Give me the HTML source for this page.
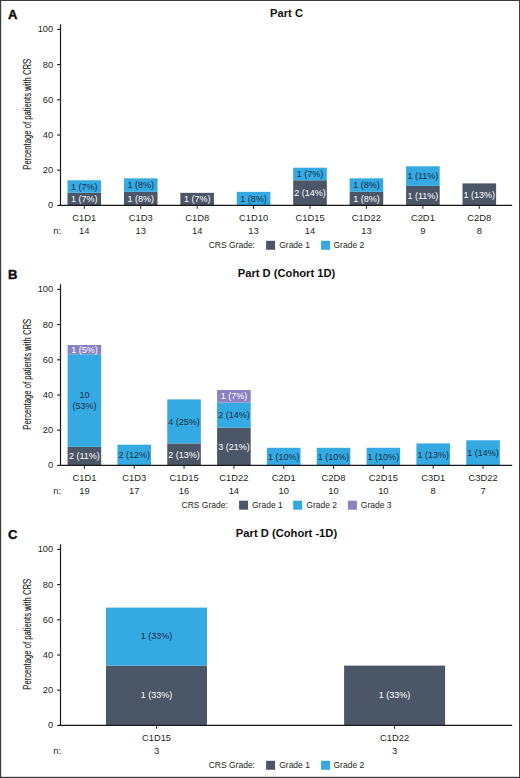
<!DOCTYPE html>
<html><head><meta charset="utf-8"><title>CRS by cycle</title>
<style>
html,body{margin:0;padding:0;background:#fff;}
body{width:520px;height:778px;overflow:hidden;}
svg{display:block;font-family:"Liberation Sans", sans-serif;}
text.k{stroke:#231f20;stroke-width:0px;}
</style></head>
<body>
<svg width="520" height="778" viewBox="0 0 520 778">
<rect x="0" y="0" width="520" height="778" fill="#fff"/>
<text x="8" y="19" font-size="13" font-weight="bold" fill="#111" stroke="#111" stroke-width="0.45">A</text>
<text x="286.5" y="17.4" font-size="11.2" font-weight="bold" fill="#111" text-anchor="middle">Part C</text>
<text transform="translate(30.9 114.3) rotate(-90)" font-size="10.5" fill="#231f20" text-anchor="middle" textLength="110.8" lengthAdjust="spacingAndGlyphs" stroke="#231f20" stroke-width="0.12">Percentage of patients with CRS</text>
<line x1="57.1" x2="60.5" y1="205.4" y2="205.4" stroke="#1a1a1a" stroke-width="1.1"/>
<text x="53.2" y="208.3" font-size="9.3" class="k" fill="#231f20" text-anchor="end">0</text>
<line x1="57.1" x2="60.5" y1="170.2" y2="170.2" stroke="#1a1a1a" stroke-width="1.1"/>
<text x="53.2" y="173.1" font-size="9.3" class="k" fill="#231f20" text-anchor="end">20</text>
<line x1="57.1" x2="60.5" y1="135" y2="135" stroke="#1a1a1a" stroke-width="1.1"/>
<text x="53.2" y="137.9" font-size="9.3" class="k" fill="#231f20" text-anchor="end">40</text>
<line x1="57.1" x2="60.5" y1="99.8" y2="99.8" stroke="#1a1a1a" stroke-width="1.1"/>
<text x="53.2" y="102.7" font-size="9.3" class="k" fill="#231f20" text-anchor="end">60</text>
<line x1="57.1" x2="60.5" y1="64.6" y2="64.6" stroke="#1a1a1a" stroke-width="1.1"/>
<text x="53.2" y="67.5" font-size="9.3" class="k" fill="#231f20" text-anchor="end">80</text>
<line x1="57.1" x2="60.5" y1="29.4" y2="29.4" stroke="#1a1a1a" stroke-width="1.1"/>
<text x="53.2" y="32.3" font-size="9.3" class="k" fill="#231f20" text-anchor="end">100</text>
<rect x="67.5" y="192.83" width="33.6" height="12.57" fill="#4b5667"/>
<text x="84.3" y="202.31" font-size="9" fill="#fff" stroke="#fff" stroke-width="0" text-anchor="middle">1 (7%)</text>
<rect x="67.5" y="180.26" width="33.6" height="12.57" fill="#35a9e1"/>
<text x="84.3" y="189.74" font-size="9" fill="#15304a" stroke="#15304a" stroke-width="0" text-anchor="middle">1 (7%)</text>
<line x1="84.3" x2="84.3" y1="205.4" y2="208.8" stroke="#1a1a1a" stroke-width="1"/>
<text x="84.3" y="220.7" font-size="9.4" class="k" fill="#231f20" text-anchor="middle">C1D1</text>
<text x="84.3" y="234" font-size="9.4" class="k" fill="#231f20" text-anchor="middle">14</text>
<rect x="123.93" y="191.86" width="33.6" height="13.54" fill="#4b5667"/>
<text x="140.73" y="201.83" font-size="9" fill="#fff" stroke="#fff" stroke-width="0" text-anchor="middle">1 (8%)</text>
<rect x="123.93" y="178.32" width="33.6" height="13.54" fill="#35a9e1"/>
<text x="140.73" y="188.29" font-size="9" fill="#15304a" stroke="#15304a" stroke-width="0" text-anchor="middle">1 (8%)</text>
<line x1="140.73" x2="140.73" y1="205.4" y2="208.8" stroke="#1a1a1a" stroke-width="1"/>
<text x="140.73" y="220.7" font-size="9.4" class="k" fill="#231f20" text-anchor="middle">C1D3</text>
<text x="140.73" y="234" font-size="9.4" class="k" fill="#231f20" text-anchor="middle">13</text>
<rect x="180.36" y="192.83" width="33.6" height="12.57" fill="#4b5667"/>
<text x="197.16" y="202.31" font-size="9" fill="#fff" stroke="#fff" stroke-width="0" text-anchor="middle">1 (7%)</text>
<line x1="197.16" x2="197.16" y1="205.4" y2="208.8" stroke="#1a1a1a" stroke-width="1"/>
<text x="197.16" y="220.7" font-size="9.4" class="k" fill="#231f20" text-anchor="middle">C1D8</text>
<text x="197.16" y="234" font-size="9.4" class="k" fill="#231f20" text-anchor="middle">14</text>
<rect x="236.79" y="191.86" width="33.6" height="13.54" fill="#35a9e1"/>
<text x="253.59" y="201.83" font-size="9" fill="#15304a" stroke="#15304a" stroke-width="0" text-anchor="middle">1 (8%)</text>
<line x1="253.59" x2="253.59" y1="205.4" y2="208.8" stroke="#1a1a1a" stroke-width="1"/>
<text x="253.59" y="220.7" font-size="9.4" class="k" fill="#231f20" text-anchor="middle">C1D10</text>
<text x="253.59" y="234" font-size="9.4" class="k" fill="#231f20" text-anchor="middle">13</text>
<rect x="293.22" y="180.26" width="33.6" height="25.14" fill="#4b5667"/>
<text x="310.02" y="196.03" font-size="9" fill="#fff" stroke="#fff" stroke-width="0" text-anchor="middle">2 (14%)</text>
<rect x="293.22" y="167.69" width="33.6" height="12.57" fill="#35a9e1"/>
<text x="310.02" y="177.17" font-size="9" fill="#15304a" stroke="#15304a" stroke-width="0" text-anchor="middle">1 (7%)</text>
<line x1="310.02" x2="310.02" y1="205.4" y2="208.8" stroke="#1a1a1a" stroke-width="1"/>
<text x="310.02" y="220.7" font-size="9.4" class="k" fill="#231f20" text-anchor="middle">C1D15</text>
<text x="310.02" y="234" font-size="9.4" class="k" fill="#231f20" text-anchor="middle">14</text>
<rect x="349.65" y="191.86" width="33.6" height="13.54" fill="#4b5667"/>
<text x="366.45" y="201.83" font-size="9" fill="#fff" stroke="#fff" stroke-width="0" text-anchor="middle">1 (8%)</text>
<rect x="349.65" y="178.32" width="33.6" height="13.54" fill="#35a9e1"/>
<text x="366.45" y="188.29" font-size="9" fill="#15304a" stroke="#15304a" stroke-width="0" text-anchor="middle">1 (8%)</text>
<line x1="366.45" x2="366.45" y1="205.4" y2="208.8" stroke="#1a1a1a" stroke-width="1"/>
<text x="366.45" y="220.7" font-size="9.4" class="k" fill="#231f20" text-anchor="middle">C1D22</text>
<text x="366.45" y="234" font-size="9.4" class="k" fill="#231f20" text-anchor="middle">13</text>
<rect x="406.08" y="185.84" width="33.6" height="19.56" fill="#4b5667"/>
<text x="422.88" y="198.82" font-size="9" fill="#fff" stroke="#fff" stroke-width="0" text-anchor="middle">1 (11%)</text>
<rect x="406.08" y="166.29" width="33.6" height="19.56" fill="#35a9e1"/>
<text x="422.88" y="179.27" font-size="9" fill="#15304a" stroke="#15304a" stroke-width="0" text-anchor="middle">1 (11%)</text>
<line x1="422.88" x2="422.88" y1="205.4" y2="208.8" stroke="#1a1a1a" stroke-width="1"/>
<text x="422.88" y="220.7" font-size="9.4" class="k" fill="#231f20" text-anchor="middle">C2D1</text>
<text x="422.88" y="234" font-size="9.4" class="k" fill="#231f20" text-anchor="middle">9</text>
<rect x="462.51" y="183.4" width="33.6" height="22" fill="#4b5667"/>
<text x="479.31" y="197.6" font-size="9" fill="#fff" stroke="#fff" stroke-width="0" text-anchor="middle">1 (13%)</text>
<line x1="479.31" x2="479.31" y1="205.4" y2="208.8" stroke="#1a1a1a" stroke-width="1"/>
<text x="479.31" y="220.7" font-size="9.4" class="k" fill="#231f20" text-anchor="middle">C2D8</text>
<text x="479.31" y="234" font-size="9.4" class="k" fill="#231f20" text-anchor="middle">8</text>
<text x="53.2" y="234" font-size="9.4" class="k" fill="#231f20">n:</text>
<line x1="60.5" x2="60.5" y1="24.2" y2="206" stroke="#1a1a1a" stroke-width="1.2"/>
<line x1="59.9" x2="512.2" y1="205.4" y2="205.4" stroke="#1a1a1a" stroke-width="1.3"/>
<text x="208.7" y="247.6" font-size="8.5" class="k" fill="#231f20">CRS Grade:</text>
<rect x="266.1" y="240.8" width="9" height="9" fill="#4b5667"/>
<text x="279.2" y="247.6" font-size="8.5" class="k" fill="#231f20">Grade 1</text>
<rect x="321.1" y="240.8" width="9" height="9" fill="#35a9e1"/>
<text x="333.5" y="247.6" font-size="8.5" class="k" fill="#231f20">Grade 2</text>
<text x="8" y="279" font-size="13" font-weight="bold" fill="#111" stroke="#111" stroke-width="0.45">B</text>
<text x="286.5" y="277.4" font-size="11.2" font-weight="bold" fill="#111" text-anchor="middle">Part D (Cohort 1D)</text>
<text transform="translate(30.9 374.3) rotate(-90)" font-size="10.5" fill="#231f20" text-anchor="middle" textLength="110.8" lengthAdjust="spacingAndGlyphs" stroke="#231f20" stroke-width="0.12">Percentage of patients with CRS</text>
<line x1="57.1" x2="60.5" y1="465.4" y2="465.4" stroke="#1a1a1a" stroke-width="1.1"/>
<text x="53.2" y="468.3" font-size="9.3" class="k" fill="#231f20" text-anchor="end">0</text>
<line x1="57.1" x2="60.5" y1="430.2" y2="430.2" stroke="#1a1a1a" stroke-width="1.1"/>
<text x="53.2" y="433.1" font-size="9.3" class="k" fill="#231f20" text-anchor="end">20</text>
<line x1="57.1" x2="60.5" y1="395" y2="395" stroke="#1a1a1a" stroke-width="1.1"/>
<text x="53.2" y="397.9" font-size="9.3" class="k" fill="#231f20" text-anchor="end">40</text>
<line x1="57.1" x2="60.5" y1="359.8" y2="359.8" stroke="#1a1a1a" stroke-width="1.1"/>
<text x="53.2" y="362.7" font-size="9.3" class="k" fill="#231f20" text-anchor="end">60</text>
<line x1="57.1" x2="60.5" y1="324.6" y2="324.6" stroke="#1a1a1a" stroke-width="1.1"/>
<text x="53.2" y="327.5" font-size="9.3" class="k" fill="#231f20" text-anchor="end">80</text>
<line x1="57.1" x2="60.5" y1="289.4" y2="289.4" stroke="#1a1a1a" stroke-width="1.1"/>
<text x="53.2" y="292.3" font-size="9.3" class="k" fill="#231f20" text-anchor="end">100</text>
<rect x="67.6" y="446.87" width="33.6" height="18.53" fill="#4b5667"/>
<text x="84.4" y="459.34" font-size="9" fill="#fff" stroke="#fff" stroke-width="0" text-anchor="middle">2 (11%)</text>
<rect x="67.6" y="354.24" width="33.6" height="92.63" fill="#35a9e1"/>
<text x="84.4" y="398.26" font-size="9" fill="#15304a" stroke="#15304a" stroke-width="0" text-anchor="middle">10</text>
<text x="84.4" y="409.26" font-size="9" fill="#15304a" stroke="#15304a" stroke-width="0" text-anchor="middle">(53%)</text>
<rect x="67.6" y="344.98" width="33.6" height="9.26" fill="#8b82c2"/>
<text x="84.4" y="352.81" font-size="9" fill="#fff" stroke="#fff" stroke-width="0" text-anchor="middle">1 (5%)</text>
<line x1="84.4" x2="84.4" y1="465.4" y2="468.8" stroke="#1a1a1a" stroke-width="1"/>
<text x="84.4" y="480.7" font-size="9.4" class="k" fill="#231f20" text-anchor="middle">C1D1</text>
<text x="84.4" y="494" font-size="9.4" class="k" fill="#231f20" text-anchor="middle">19</text>
<rect x="117.43" y="444.69" width="33.6" height="20.71" fill="#35a9e1"/>
<text x="134.23" y="458.25" font-size="9" fill="#15304a" stroke="#15304a" stroke-width="0" text-anchor="middle">2 (12%)</text>
<line x1="134.23" x2="134.23" y1="465.4" y2="468.8" stroke="#1a1a1a" stroke-width="1"/>
<text x="134.23" y="480.7" font-size="9.4" class="k" fill="#231f20" text-anchor="middle">C1D3</text>
<text x="134.23" y="494" font-size="9.4" class="k" fill="#231f20" text-anchor="middle">17</text>
<rect x="167.26" y="443.4" width="33.6" height="22" fill="#4b5667"/>
<text x="184.06" y="457.6" font-size="9" fill="#fff" stroke="#fff" stroke-width="0" text-anchor="middle">2 (13%)</text>
<rect x="167.26" y="399.4" width="33.6" height="44" fill="#35a9e1"/>
<text x="184.06" y="424.6" font-size="9" fill="#15304a" stroke="#15304a" stroke-width="0" text-anchor="middle">4 (25%)</text>
<line x1="184.06" x2="184.06" y1="465.4" y2="468.8" stroke="#1a1a1a" stroke-width="1"/>
<text x="184.06" y="480.7" font-size="9.4" class="k" fill="#231f20" text-anchor="middle">C1D15</text>
<text x="184.06" y="494" font-size="9.4" class="k" fill="#231f20" text-anchor="middle">16</text>
<rect x="217.09" y="427.69" width="33.6" height="37.71" fill="#4b5667"/>
<text x="233.89" y="449.74" font-size="9" fill="#fff" stroke="#fff" stroke-width="0" text-anchor="middle">3 (21%)</text>
<rect x="217.09" y="402.54" width="33.6" height="25.14" fill="#35a9e1"/>
<text x="233.89" y="418.31" font-size="9" fill="#15304a" stroke="#15304a" stroke-width="0" text-anchor="middle">2 (14%)</text>
<rect x="217.09" y="389.97" width="33.6" height="12.57" fill="#8b82c2"/>
<text x="233.89" y="399.46" font-size="9" fill="#fff" stroke="#fff" stroke-width="0" text-anchor="middle">1 (7%)</text>
<line x1="233.89" x2="233.89" y1="465.4" y2="468.8" stroke="#1a1a1a" stroke-width="1"/>
<text x="233.89" y="480.7" font-size="9.4" class="k" fill="#231f20" text-anchor="middle">C1D22</text>
<text x="233.89" y="494" font-size="9.4" class="k" fill="#231f20" text-anchor="middle">14</text>
<rect x="266.92" y="447.8" width="33.6" height="17.6" fill="#35a9e1"/>
<text x="283.72" y="459.8" font-size="9" fill="#15304a" stroke="#15304a" stroke-width="0" text-anchor="middle">1 (10%)</text>
<line x1="283.72" x2="283.72" y1="465.4" y2="468.8" stroke="#1a1a1a" stroke-width="1"/>
<text x="283.72" y="480.7" font-size="9.4" class="k" fill="#231f20" text-anchor="middle">C2D1</text>
<text x="283.72" y="494" font-size="9.4" class="k" fill="#231f20" text-anchor="middle">10</text>
<rect x="316.75" y="447.8" width="33.6" height="17.6" fill="#35a9e1"/>
<text x="333.55" y="459.8" font-size="9" fill="#15304a" stroke="#15304a" stroke-width="0" text-anchor="middle">1 (10%)</text>
<line x1="333.55" x2="333.55" y1="465.4" y2="468.8" stroke="#1a1a1a" stroke-width="1"/>
<text x="333.55" y="480.7" font-size="9.4" class="k" fill="#231f20" text-anchor="middle">C2D8</text>
<text x="333.55" y="494" font-size="9.4" class="k" fill="#231f20" text-anchor="middle">10</text>
<rect x="366.58" y="447.8" width="33.6" height="17.6" fill="#35a9e1"/>
<text x="383.38" y="459.8" font-size="9" fill="#15304a" stroke="#15304a" stroke-width="0" text-anchor="middle">1 (10%)</text>
<line x1="383.38" x2="383.38" y1="465.4" y2="468.8" stroke="#1a1a1a" stroke-width="1"/>
<text x="383.38" y="480.7" font-size="9.4" class="k" fill="#231f20" text-anchor="middle">C2D15</text>
<text x="383.38" y="494" font-size="9.4" class="k" fill="#231f20" text-anchor="middle">10</text>
<rect x="416.41" y="443.4" width="33.6" height="22" fill="#35a9e1"/>
<text x="433.21" y="457.6" font-size="9" fill="#15304a" stroke="#15304a" stroke-width="0" text-anchor="middle">1 (13%)</text>
<line x1="433.21" x2="433.21" y1="465.4" y2="468.8" stroke="#1a1a1a" stroke-width="1"/>
<text x="433.21" y="480.7" font-size="9.4" class="k" fill="#231f20" text-anchor="middle">C3D1</text>
<text x="433.21" y="494" font-size="9.4" class="k" fill="#231f20" text-anchor="middle">8</text>
<rect x="466.24" y="440.26" width="33.6" height="25.14" fill="#35a9e1"/>
<text x="483.04" y="456.03" font-size="9" fill="#15304a" stroke="#15304a" stroke-width="0" text-anchor="middle">1 (14%)</text>
<line x1="483.04" x2="483.04" y1="465.4" y2="468.8" stroke="#1a1a1a" stroke-width="1"/>
<text x="483.04" y="480.7" font-size="9.4" class="k" fill="#231f20" text-anchor="middle">C3D22</text>
<text x="483.04" y="494" font-size="9.4" class="k" fill="#231f20" text-anchor="middle">7</text>
<text x="53.2" y="494" font-size="9.4" class="k" fill="#231f20">n:</text>
<line x1="60.5" x2="60.5" y1="284.2" y2="466" stroke="#1a1a1a" stroke-width="1.2"/>
<line x1="59.9" x2="512.2" y1="465.4" y2="465.4" stroke="#1a1a1a" stroke-width="1.3"/>
<text x="181.5" y="507.6" font-size="8.5" class="k" fill="#231f20">CRS Grade:</text>
<rect x="239.1" y="500.7" width="9" height="9" fill="#4b5667"/>
<text x="252" y="507.6" font-size="8.5" class="k" fill="#231f20">Grade 1</text>
<rect x="293.2" y="500.7" width="9" height="9" fill="#35a9e1"/>
<text x="306.3" y="507.6" font-size="8.5" class="k" fill="#231f20">Grade 2</text>
<rect x="347.9" y="500.7" width="9" height="9" fill="#8b82c2"/>
<text x="360.8" y="507.6" font-size="8.5" class="k" fill="#231f20">Grade 3</text>
<text x="8" y="539" font-size="13" font-weight="bold" fill="#111" stroke="#111" stroke-width="0.45">C</text>
<text x="286.5" y="537.4" font-size="11.2" font-weight="bold" fill="#111" text-anchor="middle">Part D (Cohort -1D)</text>
<text transform="translate(30.9 634.3) rotate(-90)" font-size="10.5" fill="#231f20" text-anchor="middle" textLength="110.8" lengthAdjust="spacingAndGlyphs" stroke="#231f20" stroke-width="0.12">Percentage of patients with CRS</text>
<line x1="57.1" x2="60.5" y1="725.4" y2="725.4" stroke="#1a1a1a" stroke-width="1.1"/>
<text x="53.2" y="728.3" font-size="9.3" class="k" fill="#231f20" text-anchor="end">0</text>
<line x1="57.1" x2="60.5" y1="690.2" y2="690.2" stroke="#1a1a1a" stroke-width="1.1"/>
<text x="53.2" y="693.1" font-size="9.3" class="k" fill="#231f20" text-anchor="end">20</text>
<line x1="57.1" x2="60.5" y1="655" y2="655" stroke="#1a1a1a" stroke-width="1.1"/>
<text x="53.2" y="657.9" font-size="9.3" class="k" fill="#231f20" text-anchor="end">40</text>
<line x1="57.1" x2="60.5" y1="619.8" y2="619.8" stroke="#1a1a1a" stroke-width="1.1"/>
<text x="53.2" y="622.7" font-size="9.3" class="k" fill="#231f20" text-anchor="end">60</text>
<line x1="57.1" x2="60.5" y1="584.6" y2="584.6" stroke="#1a1a1a" stroke-width="1.1"/>
<text x="53.2" y="587.5" font-size="9.3" class="k" fill="#231f20" text-anchor="end">80</text>
<line x1="57.1" x2="60.5" y1="549.4" y2="549.4" stroke="#1a1a1a" stroke-width="1.1"/>
<text x="53.2" y="552.3" font-size="9.3" class="k" fill="#231f20" text-anchor="end">100</text>
<rect x="106" y="665.6" width="101" height="59.8" fill="#4b5667"/>
<text x="156.5" y="697.7" font-size="9" fill="#fff" stroke="#fff" stroke-width="0" text-anchor="middle">1 (33%)</text>
<rect x="106" y="607.6" width="101" height="58" fill="#35a9e1"/>
<text x="156.5" y="638.8" font-size="9" fill="#15304a" stroke="#15304a" stroke-width="0" text-anchor="middle">1 (33%)</text>
<line x1="156.5" x2="156.5" y1="725.4" y2="728.8" stroke="#1a1a1a" stroke-width="1"/>
<text x="156.5" y="740.7" font-size="9.4" class="k" fill="#231f20" text-anchor="middle">C1D15</text>
<text x="156.5" y="754" font-size="9.4" class="k" fill="#231f20" text-anchor="middle">3</text>
<rect x="344.1" y="665.6" width="101" height="59.8" fill="#4b5667"/>
<text x="394.6" y="697.7" font-size="9" fill="#fff" stroke="#fff" stroke-width="0" text-anchor="middle">1 (33%)</text>
<line x1="394.6" x2="394.6" y1="725.4" y2="728.8" stroke="#1a1a1a" stroke-width="1"/>
<text x="394.6" y="740.7" font-size="9.4" class="k" fill="#231f20" text-anchor="middle">C1D22</text>
<text x="394.6" y="754" font-size="9.4" class="k" fill="#231f20" text-anchor="middle">3</text>
<text x="53.2" y="754" font-size="9.4" class="k" fill="#231f20">n:</text>
<line x1="60.5" x2="60.5" y1="544.2" y2="726" stroke="#1a1a1a" stroke-width="1.2"/>
<line x1="59.9" x2="512.2" y1="725.4" y2="725.4" stroke="#1a1a1a" stroke-width="1.3"/>
<text x="208.7" y="767.6" font-size="8.5" class="k" fill="#231f20">CRS Grade:</text>
<rect x="266.1" y="760.8" width="9" height="9" fill="#4b5667"/>
<text x="279.2" y="767.6" font-size="8.5" class="k" fill="#231f20">Grade 1</text>
<rect x="321.1" y="760.8" width="9" height="9" fill="#35a9e1"/>
<text x="333.5" y="767.6" font-size="8.5" class="k" fill="#231f20">Grade 2</text>
<rect x="0" y="0" width="520" height="1" fill="#3c3c3c"/><rect x="0" y="0" width="1.2" height="778" fill="#3c3c3c"/><rect x="519" y="0" width="1" height="778" fill="#3c3c3c"/><rect x="0" y="776.8" width="520" height="1.2" fill="#3c3c3c"/>
</svg>
</body></html>
